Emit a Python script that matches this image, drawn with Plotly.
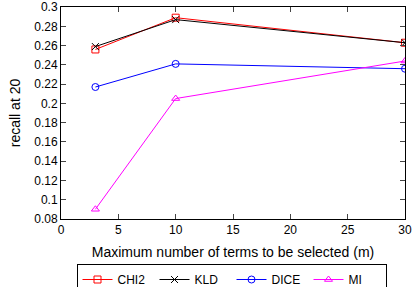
import plotly.graph_objects as go

x_terms = [3, 10, 30]
chi2 = [0.256, 0.289, 0.263]
kld = [0.259, 0.287, 0.263]
dice = [0.217, 0.241, 0.236]
mi = [0.090, 0.205, 0.244]

series = [
    ("CHI2", chi2, "#ff0000", "square-open"),
    ("KLD", kld, "#000000", "x-thin-open"),
    ("DICE", dice, "#0000ff", "circle-open"),
    ("MI", mi, "#ff00ff", "triangle-up-open"),
]

fig = go.Figure()
for name, vals, col, sym in series:
    fig.add_trace(go.Scatter(
        x=x_terms, y=vals, name=name, mode="lines+markers",
        line=dict(color=col, width=1),
        marker=dict(symbol=sym, size=7, color=col, line=dict(color=col, width=1)),
    ))

font = dict(family="Liberation Sans, Arial, sans-serif", size=12, color="#000")
fig.update_layout(
    width=415, height=287,
    margin=dict(l=61, r=10, t=7, b=68, autoexpand=False),
    paper_bgcolor="white", plot_bgcolor="white",
    font=font,
    showlegend=True,
    legend=dict(orientation="h", x=231.5 / 415, xanchor="center", xref="container",
                y=(287 - 264) / 287, yanchor="top", yref="container",
                bordercolor="#000", borderwidth=1, font=font,
                itemwidth=30, tracegroupgap=0, entrywidth=32),
)
fig.update_xaxes(range=[0, 30], dtick=5, tick0=0, ticks="inside", ticklen=5,
                 showline=True, linecolor="#000", linewidth=1, mirror="ticks",
                 showgrid=False, zeroline=False, ticklabeloverflow="allow",
                 title=dict(text="Maximum number of terms to be selected (m)", standoff=10))
fig.update_yaxes(range=[0.0799, 0.3001], dtick=0.02, tick0=0.08, ticks="inside", ticklen=5,
                 showline=True, linecolor="#000", linewidth=1, mirror="ticks",
                 showgrid=False, zeroline=False, ticklabeloverflow="allow",
                 title=dict(text="recall at 20", standoff=10))

fig.write_html("out.html")
